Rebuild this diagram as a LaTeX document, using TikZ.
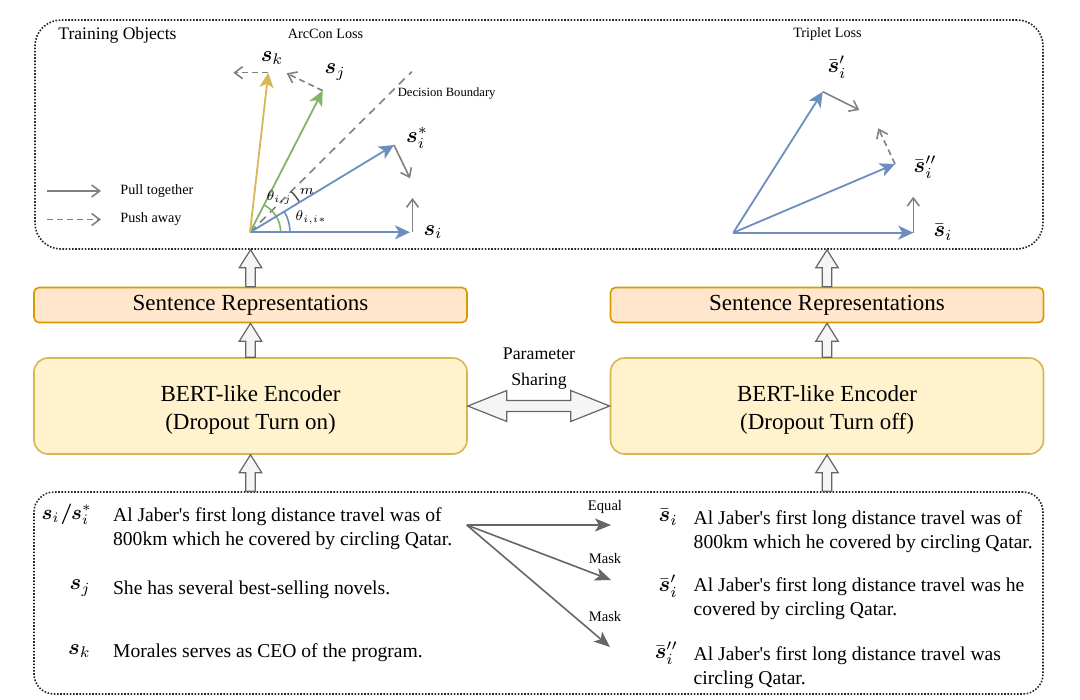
\RequirePackage{fix-cm}
\documentclass[tikz,border=0pt]{standalone}
\usepackage{amsmath}
\usepackage{fontspec}
\setmainfont{Liberation Serif}
\usetikzlibrary{arrows.meta,calc}
\definecolor{blueA}{HTML}{6C8EBF}
\definecolor{greenA}{HTML}{82B366}
\definecolor{yellowA}{HTML}{D6B656}
\definecolor{grayA}{HTML}{808080}
\definecolor{grayB}{HTML}{666666}
\definecolor{orangeF}{HTML}{FFE6CC}
\definecolor{orangeD}{HTML}{D79B00}
\definecolor{yellowF}{HTML}{FFF2CC}
\definecolor{yellowD}{HTML}{D6B656}
\definecolor{blkF}{HTML}{F5F5F5}
\newcommand\fs[2]{\fontsize{#1}{#2}\selectfont}
\newcommand\upblk[2]{\draw[blk] let \p1=(#1),\p2=(#2) in (\x1-2.35pt,\y1) -- (\x1-2.35pt,\y2-9pt) -- (\x1-5.65pt,\y2-9pt) -- (\x1,\y2) -- (\x1+5.65pt,\y2-9pt) -- (\x1+2.35pt,\y2-9pt) -- (\x1+2.35pt,\y1) -- cycle;}
\newcommand\dblk[2]{\draw[blk] let \p1=(#1),\p2=(#2) in (\x1,\y1) -- (\x1+19.5pt,\y1+7.75pt) -- (\x1+19.5pt,\y1+2.75pt) -- (\x2-19.5pt,\y1+2.75pt) -- (\x2-19.5pt,\y1+7.75pt) -- (\x2,\y1) -- (\x2-19.5pt,\y1-7.75pt) -- (\x2-19.5pt,\y1-2.75pt) -- (\x1+19.5pt,\y1-2.75pt) -- (\x1+19.5pt,\y1-7.75pt) -- cycle;}
\newcommand\bs{\boldsymbol{s}}
\newcommand\bbs{\bar{\boldsymbol{s}}}
\begin{document}
\begin{tikzpicture}[x=0.5pt,y=0.5pt,
  dotbox/.style={draw=black!85, line width=0.8pt, dash pattern=on 0.8pt off 0.8pt, inner sep=0},
  srbox/.style={draw=orangeD, fill=orangeF, line width=0.8pt, rounded corners=2.5pt, minimum width=216.5pt, minimum height=17.5pt, inner sep=0, text height=5.2pt, text depth=0pt, font=\fs{11.5}{14}},
  encbox/.style={draw=yellowD, fill=yellowF, line width=0.8pt, rounded corners=7pt, minimum width=216.5pt, minimum height=48pt},
  enctxt/.style={align=center, inner sep=0, font=\fs{11.5}{14.2}},
  blk/.style={draw=grayB, fill=blkF, line width=0.6pt, line join=miter},
  vec/.style={line width=0.9pt, -{Stealth[length=7.5pt,width=7pt,inset=2pt]}},
  pull/.style={draw=grayA, line width=0.8pt, -{Straight Barb[length=4pt,width=6pt]}},
  push/.style={pull, dash pattern=on 3pt off 2pt},
  fan/.style={draw=grayB, line width=0.8pt, -{Stealth[length=8pt,width=6.5pt,inset=2pt]}},
  sym/.style={font=\fs{11}{13}, inner sep=0},
  txt/.style={font=\fs{9.8}{12.1}, align=left, inner sep=0, anchor=west},
  small/.style={font=\fs{7.1}{9}, inner sep=0},
  ang/.style={font=\fs{7}{8}, inner sep=0}]
\useasboundingbox (0,0) rectangle (1080,-700);

% containers
\node[dotbox, minimum width=504pt, minimum height=114.5pt, rounded corners=13pt] (top) at (539,-134.5) {};
\node[dotbox, minimum width=504.5pt, minimum height=101pt, rounded corners=10pt] (bot) at (538.5,-593) {};

% boxes
\node[srbox] (srL) at (250.5,-305) {Sentence Representations};
\node[srbox] (srR) at (827,-305) {Sentence Representations};
\node[encbox] (encL) at (250.5,-406) {};
\node[encbox] (encR) at (827,-406) {};
\node[enctxt] (encLt) at ($(encL.center)+(0,-4)$) {BERT-like Encoder\\(Dropout Turn on)};
\node[enctxt] (encRt) at ($(encR.center)+(0,-4)$) {BERT-like Encoder\\(Dropout Turn off)};

% block arrows
\upblk{encL.north}{srL.south}
\upblk{srL.north}{top.south -| srL.north}
\upblk{bot.north -| encL.south}{encL.south}
\upblk{encR.north}{srR.south}
\upblk{srR.north}{top.south -| srR.north}
\upblk{bot.north -| encR.south}{encR.south}
\dblk{encL.east}{encR.west}
\node[font=\fs{8.9}{11}] (par) at (539,-354) {Parameter};
\node[font=\fs{8.9}{11}] (shr) at (539,-381) {Sharing};

% top labels
\node[font=\fs{8.8}{10}, inner sep=0, anchor=west] (tobj) at (58,-35) {Training Objects};
\node[small] (arccon) at (325.5,-34) {ArcCon Loss};
\node[small] (trip) at (827.5,-34) {Triplet Loss};

% legend
\coordinate (lg1a) at (47,-191); \coordinate (lg1b) at (101,-191);
\coordinate (lg2a) at (47,-219.5); \coordinate (lg2b) at (101,-219.5);
\draw[pull] (lg1a) -- (lg1b);
\draw[push] (lg2a) -- (lg2b);
\node[small, anchor=west] (lgt1) at (120,-191) {Pull together};
\node[small, anchor=west] (lgt2) at (120,-219.5) {Push away};

% ArcCon
\coordinate (O) at (250,-232.3);
\coordinate (si) at (410,-232.3);
\coordinate (sis) at (394,-145);
\coordinate (sj) at (322.7,-90.7);
\coordinate (sk) at (268.3,-72.7);
\coordinate (db) at (411.7,-71.7);
\coordinate (siup) at (412.5,-232.3);
\coordinate (siupe) at (412.5,-198);
\coordinate (sise) at (410,-178.3);
\coordinate (sje) at (286.7,-73.3);
\coordinate (ske) at (233.3,-72.7);
\draw[grayA, line width=0.8pt, dash pattern=on 4pt off 3pt] (O) -- (db);
\draw[blueA, line width=0.8pt] ($(O)+(40,0)$) arc[start angle=0, end angle=31.2, radius=20pt];
\draw[greenA, line width=0.8pt] ($(O)+(30.7,0)$) arc[start angle=0, end angle=62.8, radius=15.35pt];
\draw[black!70, line width=0.7pt] ($(O)+(31.2:58)$) arc[start angle=31.2, end angle=44.8, radius=29pt];
\draw[vec, blueA] (O) -- (si);
\draw[vec, blueA] (O) -- (sis);
\draw[vec, greenA] (O) -- (sj);
\draw[vec, yellowA] (O) -- (sk);
\draw[pull] (siup) -- (siupe);
\draw[pull] (sis) -- (sise);
\draw[push] (sj) -- (sje);
\draw[push] (sk) -- (ske);
\node[sym] (lsi) at (433,-232) {$\bs_i$};
\node[sym] (lsis) at (417,-138) {$\bs_i^*$};
\node[sym] (lsj) at (335,-72) {$\bs_j$};
\node[sym] (lsk) at (272,-58) {$\bs_k$};
\node[font=\fs{6.3}{8}, inner sep=0] (dbl) at (446.7,-93.3) {Decision Boundary};
\node[ang] (thij) at (279,-198) {$\theta_{i,j}$};
\node[ang] (mm) at (307,-191) {$m$};
\node[ang] (thii) at (311,-217.5) {$\theta_{i,i*}$};

% Triplet
\coordinate (O2) at (733.3,-232.7);
\coordinate (b1) at (913.3,-232.7);
\coordinate (b2) at (822.7,-91.7);
\coordinate (b3) at (895,-164);
\coordinate (b1e) at (913.3,-196.7);
\coordinate (b2e) at (859.3,-110);
\coordinate (b3e) at (878.3,-128.3);
\draw[vec, blueA] (O2) -- (b1);
\draw[vec, blueA] (O2) -- (b2);
\draw[vec, blueA] (O2) -- (b3);
\draw[pull] (b1) -- (b1e);
\draw[pull] (b2) -- (b2e);
\draw[push] (b3) -- (b3e);
\node[sym] (lb1) at (943,-232) {$\bbs_i$};
\node[sym] (lb2) at (837,-67) {$\bbs_i'$};
\node[sym] (lb3) at (925,-167) {$\bbs_i''$};

% bottom texts
\node[sym, font=\fs{10.3}{12}, anchor=east] (l1) at (92,-514) {$\bs_i\mkern1mu\boldsymbol{/}\mkern-1mu\bs_i^*$};
\node[sym, anchor=east] (l2) at (91,-588) {$\bs_j$};
\node[sym, anchor=east] (l3) at (91,-651) {$\bs_k$};
\node[txt] (t1) at (112.7,-528.5) {Al Jaber\textquotesingle s first long distance travel was of\\800km which he covered by circling Qatar.};
\node[txt] (t2) at (112.7,-589.5) {She has several best-selling novels.};
\node[txt] (t3) at (112.7,-652.5) {Morales serves as CEO of the program.};

\node[sym, anchor=east] (r1) at (678,-517) {$\bbs_i$};
\node[sym, anchor=east] (r2) at (678,-586) {$\bbs_i'$};
\node[sym, anchor=east] (r3) at (678,-653) {$\bbs_i''$};
\node[txt] (u1) at (693.3,-531.5) {Al Jaber\textquotesingle s first long distance travel was of\\800km which he covered by circling Qatar.};
\node[txt] (u2) at (693.3,-598.8) {Al Jaber\textquotesingle s first long distance travel was he\\covered by circling Qatar.};
\node[txt] (u3) at (693.3,-667.5) {Al Jaber\textquotesingle s first long distance travel was\\circling Qatar.};

% fan
\coordinate (f0) at (466.7,-525);
\coordinate (fe1) at (611,-525);
\coordinate (fe2) at (611,-580);
\coordinate (fe3) at (610,-647);
\draw[fan] (f0) -- (fe1);
\draw[fan] (f0) -- (fe2);
\draw[fan] (f0) -- (fe3);
\node[font=\fs{7.3}{9}, inner sep=0] (eq) at (605,-507) {Equal};
\node[font=\fs{7.3}{9}, inner sep=0] (mk1) at (605,-559) {Mask};
\node[font=\fs{7.3}{9}, inner sep=0] (mk2) at (605,-616) {Mask};
\end{tikzpicture}
\end{document}
